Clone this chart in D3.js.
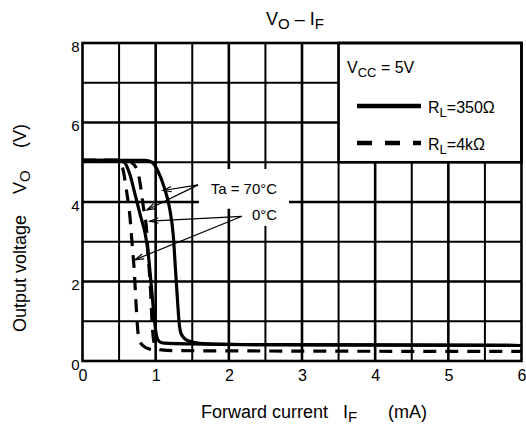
<!DOCTYPE html>
<html>
<head>
<meta charset="utf-8">
<script src="https://cdn.jsdelivr.net/npm/d3@7"></script>
<style>
  body { margin: 0; background: #fff; }
  text { font-family: "Liberation Sans", Arial, sans-serif; fill: #000; }
</style>
</head>
<body>
<div id="vis"></div>
<script>
// axis ticks and grid
var xTicks = [0, 1, 2, 3, 4, 5, 6];
var yTicks = [0, 2, 4, 6, 8];
var xGrid = [0.5, 1, 1.5, 2, 2.5, 3, 3.5, 4, 4.5, 5, 5.5];
var yGrid = [1, 2, 3, 4, 5, 6, 7];

// [IF (mA), VO (V)]
var solid70 = [[0, 5.05], [0.85, 5.05], [0.95, 5.0], [1.03, 4.78], [1.12, 4.35], [1.19, 3.85],
  [1.24, 3.17], [1.27, 2.33], [1.30, 1.48], [1.32, 0.98], [1.35, 0.68], [1.44, 0.51],
  [1.63, 0.44], [2.5, 0.41], [6, 0.39]];
var solid0 = [[0, 5.05], [0.5, 5.05], [0.58, 4.98], [0.65, 4.68], [0.72, 4.18], [0.79, 3.67],
  [0.86, 3.17], [0.9, 2.67], [0.94, 1.9], [0.98, 1.1], [1.01, 0.65], [1.05, 0.49],
  [1.12, 0.45], [1.5, 0.43], [2.5, 0.41], [6, 0.39]];
var dashed70 = [[0, 5.05], [0.6, 5.05], [0.7, 4.95], [0.77, 4.65], [0.83, 3.9], [0.88, 3.2],
  [0.9, 2.6], [0.93, 1.8], [0.95, 1.0], [0.97, 0.55], [1.0, 0.35], [1.08, 0.28],
  [1.3, 0.26], [6, 0.24]];
var dashed0 = [[0, 5.05], [0.46, 5.05], [0.54, 4.9], [0.6, 4.3], [0.65, 3.6], [0.68, 2.9],
  [0.71, 2.2], [0.73, 1.5], [0.75, 0.9], [0.77, 0.55], [0.83, 0.38], [0.92, 0.3], [1.05, 0.28]];

var series = [
  { pts: solid70, dash: null },
  { pts: solid0, dash: null },
  { pts: dashed70, dash: '13,9' },
  { pts: dashed0, dash: '13,9' }
];

// annotation arrows: label anchor -> tip, in data units
var arrows70 = [[[1.58, 4.43], [1.10, 4.29]], [[1.58, 4.43], [0.88, 3.80]]];
var arrows0 = [[[2.18, 3.64], [0.92, 3.52]], [[2.18, 3.64], [0.72, 2.55]]];

var width = 526, height = 425;
var margin = { top: 43, left: 82.5, bottom: 64, right: 4.5 };

var svg = d3.select('#vis').append('svg')
  .attr('width', width)
  .attr('height', height);

svg.append('rect').attr('width', width).attr('height', height).attr('fill', '#fff');

var x = d3.scaleLinear().domain([0, 6]).range([margin.left, width - margin.right]);
var y = d3.scaleLinear().domain([0, 8]).range([height - margin.bottom, margin.top]);

// grid
svg.append('g').selectAll('line.vg')
  .data(xGrid).enter()
  .append('line')
  .attr('x1', d => x(d)).attr('x2', d => x(d))
  .attr('y1', y(0)).attr('y2', y(8))
  .attr('stroke', '#000')
  .attr('stroke-width', d => d % 1 === 0 ? 2.6 : 2);

svg.append('g').selectAll('line.hg')
  .data(yGrid).enter()
  .append('line')
  .attr('y1', d => y(d)).attr('y2', d => y(d))
  .attr('x1', x(0)).attr('x2', x(6))
  .attr('stroke', '#000')
  .attr('stroke-width', d => d % 2 === 0 ? 2.6 : 2);

// white patches behind the temperature labels
svg.append('rect')
  .attr('x', x(1.592)).attr('y', y(4.83))
  .attr('width', x(2.822) - x(1.592)).attr('height', y(3.83) - y(4.83))
  .attr('fill', '#fff');
svg.append('rect')
  .attr('x', x(2.17)).attr('y', y(3.85))
  .attr('width', x(2.74) - x(2.17)).attr('height', y(3.4) - y(3.85))
  .attr('fill', '#fff');

// legend box in the top right corner
svg.append('rect')
  .attr('x', x(3.5)).attr('y', y(8))
  .attr('width', x(6) - x(3.5)).attr('height', y(5) - y(8))
  .attr('fill', '#fff')
  .attr('stroke', '#000')
  .attr('stroke-width', 2.6);

// curves
var line = d3.line()
  .x(d => x(d[0]))
  .y(d => y(d[1]))
  .curve(d3.curveMonotoneX);

svg.append('clipPath').attr('id', 'clip')
  .append('rect')
  .attr('x', x(0)).attr('y', y(8))
  .attr('width', x(6) - x(0)).attr('height', y(0) - y(8));

svg.append('g').attr('clip-path', 'url(#clip)')
  .selectAll('path.curve')
  .data(series).enter()
  .append('path')
  .attr('class', 'curve')
  .attr('d', d => line(d.pts))
  .attr('fill', 'none')
  .attr('stroke', '#000')
  .attr('stroke-width', 3.2)
  .attr('stroke-dasharray', d => d.dash);

// frame
svg.append('rect')
  .attr('x', x(0)).attr('y', y(8))
  .attr('width', x(6) - x(0)).attr('height', y(0) - y(8))
  .attr('fill', 'none')
  .attr('stroke', '#000')
  .attr('stroke-width', 2.6);

// tick labels
var xAxis = svg.append('g')
  .attr('transform', 'translate(0,' + y(0) + ')')
  .call(d3.axisBottom(x).tickValues(xTicks).tickSize(0).tickPadding(9).tickFormat(d3.format('d')));
xAxis.select('.domain').remove();
xAxis.selectAll('text').attr('font-size', 16).attr('font-family', null);

var yAxis = svg.append('g')
  .attr('transform', 'translate(' + x(0) + ',0)')
  .call(d3.axisLeft(y).tickValues(yTicks).tickSize(0).tickPadding(3).tickFormat(d3.format('d')));
yAxis.select('.domain').remove();
yAxis.selectAll('text').attr('font-size', 15).attr('font-family', null).attr('dy', '0.55em');

// arrows
function drawArrow(a) {
  var x0 = x(a[0][0]), y0 = y(a[0][1]), x1 = x(a[1][0]), y1 = y(a[1][1]);
  var ang = Math.atan2(y1 - y0, x1 - x0);
  var len = 9, spread = 0.3;
  svg.append('line')
    .attr('x1', x0).attr('y1', y0).attr('x2', x1).attr('y2', y1)
    .attr('stroke', '#000').attr('stroke-width', 1.2);
  svg.append('path')
    .attr('d', 'M' + (x1 - len * Math.cos(ang - spread)) + ',' + (y1 - len * Math.sin(ang - spread)) +
      'L' + x1 + ',' + y1 +
      'L' + (x1 - len * Math.cos(ang + spread)) + ',' + (y1 - len * Math.sin(ang + spread)))
    .attr('fill', 'none').attr('stroke', '#000').attr('stroke-width', 1.2);
}
arrows70.forEach(drawArrow);
arrows0.forEach(drawArrow);

svg.append('text')
  .attr('x', x(2.66)).attr('y', y(4.2))
  .attr('text-anchor', 'end').attr('font-size', 15)
  .text('Ta = 70°C');
svg.append('text')
  .attr('x', x(2.66)).attr('y', y(3.55))
  .attr('text-anchor', 'end').attr('font-size', 15)
  .text('0°C');

// legend contents
var vcc = svg.append('text').attr('x', 347).attr('y', 73).attr('font-size', 16);
vcc.append('tspan').text('V');
vcc.append('tspan').attr('dy', 4).attr('font-size', 13).text('CC');
vcc.append('tspan').attr('dy', -4).text(' = 5V');

var legendRows = [
  { label: '=350Ω', dash: null, y: 106 },
  { label: '=4kΩ', dash: '15,13', y: 143 }
];
legendRows.forEach(function (r) {
  svg.append('line')
    .attr('x1', 357).attr('x2', 421)
    .attr('y1', r.y).attr('y2', r.y)
    .attr('stroke', '#000').attr('stroke-width', 4.5)
    .attr('stroke-dasharray', r.dash);
  var t = svg.append('text').attr('x', 428).attr('y', r.y + 7).attr('font-size', 16);
  t.append('tspan').text('R');
  t.append('tspan').attr('dy', 4).attr('font-size', 13).text('L');
  t.append('tspan').attr('dy', -4).text(r.label);
});

// title
var title = svg.append('text').attr('x', 266).attr('y', 25).attr('font-size', 18);
title.append('tspan').text('V');
title.append('tspan').attr('dy', 4).attr('font-size', 15).text('O');
title.append('tspan').attr('dy', -4).text(' – I');
title.append('tspan').attr('dy', 4).attr('font-size', 15).text('F');

// axis titles
var xl = svg.append('text').attr('x', 201).attr('y', 418).attr('font-size', 18);
xl.append('tspan').text('Forward current');
xl.append('tspan').attr('x', 343).text('I');
xl.append('tspan').attr('dy', 4).attr('font-size', 15).text('F');
xl.append('tspan').attr('dy', -4).attr('x', 388).text('(mA)');

var yl = svg.append('text')
  .attr('transform', 'translate(26,0) rotate(-90)')
  .attr('x', -332).attr('y', 0).attr('font-size', 18);
yl.append('tspan').text('Output voltage');
yl.append('tspan').attr('x', -194).text('V');
yl.append('tspan').attr('dy', 4).attr('font-size', 15).text('O');
yl.append('tspan').attr('dy', -4).attr('x', -148).text('(V)');
</script>
</body>
</html>
